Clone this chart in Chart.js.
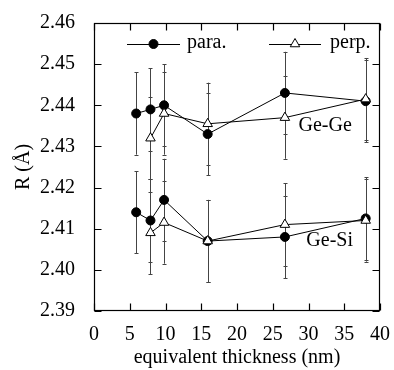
<!DOCTYPE html>
<html>
<head>
<meta charset="utf-8">
<script src="https://cdn.jsdelivr.net/npm/chart.js@4"></script>
<style>
  html, body { margin: 0; padding: 0; background: #fff; }
  #wrap { width: 394px; height: 370px; }
</style>
</head>
<body>
<div id="wrap"><canvas id="chart" width="394" height="370"></canvas></div>
<script>
// values
const thickness = [5.9, 7.9, 9.8, 15.9, 26.7, 38.0];

const geGePara = [2.438, 2.439, 2.440, 2.433, 2.443, 2.441];
const geGePerp = [null, 2.432, 2.438, 2.4355, 2.437, 2.4415];
const geSiPara = [2.414, 2.412, 2.417, 2.407, 2.408, 2.4125];
const geSiPerp = [null, 2.409, 2.4115, 2.407, 2.411, 2.412];

// error (± R) for each point
const geGeParaErr = [0.010, 0.010, 0.010, 0.010, 0.010, 0.010];
const geGePerpErr = [null, 0.010, 0.010, 0.010, 0.010, 0.010];
const geSiParaErr = [0.010, 0.010, 0.010, 0.010, 0.010, 0.010];
const geSiPerpErr = [null, 0.010, 0.010, 0.010, 0.010, 0.010];

const xTicks = [0, 5, 10, 15, 20, 25, 30, 35, 40];
const yTicks = [2.39, 2.40, 2.41, 2.42, 2.43, 2.44, 2.45, 2.46];

const seriesNames = ['para.', 'perp.'];
const groupLabels = [
    { text: 'Ge-Ge', x: 28.6, y: 2.4351 },
    { text: 'Ge-Si', x: 29.7, y: 2.4070 }
];

const FONT = '"Liberation Serif", "DejaVu Serif", serif';

function points(ys) {
    return thickness
        .map((x, i) => ({ x: x, y: ys[i] }))
        .filter(p => p.y !== null);
}

function errs(ys, es) {
    return thickness
        .map((x, i) => ({ x: x, y: ys[i], e: es[i] }))
        .filter(p => p.y !== null && p.e !== null);
}

const paraStyle = { pointStyle: 'circle', pointRadius: 4.5, pointBackgroundColor: '#000' };
const perpStyle = { pointStyle: 'triangle', pointRadius: 5.5, pointBackgroundColor: '#fff' };

function makeSet(label, ys, es, style) {
    return Object.assign({
        label: label,
        data: points(ys),
        errorBars: errs(ys, es),
        borderColor: '#000',
        borderWidth: 1,
        pointBorderColor: '#000',
        pointBorderWidth: 1,
        showLine: true,
        fill: false,
        tension: 0
    }, style);
}

// perp first so the triangles sit on top of the circles
const datasets = [
    makeSet(seriesNames[1], geGePerp, geGePerpErr, perpStyle),
    makeSet(seriesNames[1], geSiPerp, geSiPerpErr, perpStyle),
    makeSet(seriesNames[0], geGePara, geGeParaErr, paraStyle),
    makeSet(seriesNames[0], geSiPara, geSiParaErr, paraStyle)
];

const decorations = {
    id: 'decorations',
    beforeDatasetsDraw(chart) {
        const ctx = chart.ctx;
        const xs = chart.scales.x;
        const ys = chart.scales.y;
        ctx.save();
        ctx.strokeStyle = '#444';
        ctx.lineWidth = 1;
        chart.data.datasets.forEach(ds => {
            ds.errorBars.forEach(p => {
                const px = Math.round(xs.getPixelForValue(p.x)) + 0.5;
                const top = ys.getPixelForValue(p.y + p.e);
                const bot = ys.getPixelForValue(p.y - p.e);
                ctx.beginPath();
                ctx.moveTo(px, top);
                ctx.lineTo(px, bot);
                ctx.moveTo(px - 2, Math.round(top) + 0.5);
                ctx.lineTo(px + 2, Math.round(top) + 0.5);
                ctx.moveTo(px - 2, Math.round(bot) + 0.5);
                ctx.lineTo(px + 2, Math.round(bot) + 0.5);
                ctx.stroke();
            });
        });
        ctx.restore();
    },
    afterDraw(chart) {
        const ctx = chart.ctx;
        const a = chart.chartArea;
        const xs = chart.scales.x;
        const ys = chart.scales.y;
        const L = Math.round(a.left) + 0.5, R = Math.round(a.right) - 0.5;
        const T = Math.round(a.top) + 0.5, B = Math.round(a.bottom) - 0.5;
        const tick = 7;
        ctx.save();
        ctx.strokeStyle = '#000';
        ctx.lineWidth = 1.2;
        ctx.strokeRect(L, T, R - L, B - T);
        ctx.beginPath();
        xTicks.forEach(v => {
            const px = Math.round(xs.getPixelForValue(v)) + 0.5;
            ctx.moveTo(px, B); ctx.lineTo(px, B - tick);
            ctx.moveTo(px, T); ctx.lineTo(px, T + tick);
        });
        yTicks.forEach(v => {
            const py = Math.round(ys.getPixelForValue(v)) + 0.5;
            ctx.moveTo(L, py); ctx.lineTo(L + tick, py);
            ctx.moveTo(R, py); ctx.lineTo(R - tick, py);
        });
        ctx.stroke();

        // legend inside the frame
        const legendY = 44;
        const legendItems = [
            { name: seriesNames[0], x0: 127, x1: 180, style: paraStyle, tx: 187 },
            { name: seriesNames[1], x0: 269, x1: 321, style: perpStyle, tx: 330 }
        ];
        ctx.font = '20px ' + FONT;
        ctx.fillStyle = '#000';
        ctx.textBaseline = 'middle';
        ctx.textAlign = 'left';
        legendItems.forEach(it => {
            ctx.lineWidth = 1;
            ctx.strokeStyle = '#000';
            ctx.beginPath();
            ctx.moveTo(it.x0, legendY + 0.5);
            ctx.lineTo(it.x1, legendY + 0.5);
            ctx.stroke();
            ctx.fillStyle = it.style.pointBackgroundColor;
            Chart.helpers.drawPoint(ctx, {
                pointStyle: it.style.pointStyle,
                radius: it.style.pointRadius,
                rotation: 0,
                borderWidth: 1
            }, (it.x0 + it.x1) / 2, legendY);
            ctx.fillStyle = '#000';
            ctx.fillText(it.name, it.tx, legendY - 1);
        });

        groupLabels.forEach(g => {
            ctx.fillText(g.text, xs.getPixelForValue(g.x), ys.getPixelForValue(g.y));
        });
        ctx.restore();
    }
};

new Chart(document.getElementById('chart'), {
    type: 'scatter',
    data: { datasets: datasets },
    options: {
        responsive: false,
        animation: false,
        layout: { padding: { top: 19, right: 11, left: 0, bottom: 0 } },
        plugins: {
            legend: { display: false },
            tooltip: { enabled: false }
        },
        scales: {
            x: {
                type: 'linear',
                min: 0,
                max: 40,
                afterBuildTicks: scale => { scale.ticks = xTicks.map(v => ({ value: v })); },
                afterFit: scale => { scale.height = 59; },
                grid: { display: false },
                border: { display: false },
                ticks: {
                    color: '#000',
                    padding: 4,
                    maxRotation: 0,
                    font: { family: FONT, size: 20 }
                },
                title: {
                    display: true,
                    text: 'equivalent thickness (nm)',
                    color: '#000',
                    padding: { top: 0, bottom: 0 },
                    font: { family: FONT, size: 20 }
                }
            },
            y: {
                type: 'linear',
                min: 2.39,
                max: 2.46,
                afterBuildTicks: scale => { scale.ticks = yTicks.map(v => ({ value: v })); },
                afterFit: scale => { scale.width = 94; },
                grid: { display: false },
                border: { display: false },
                ticks: {
                    color: '#000',
                    padding: 11,
                    font: { family: FONT, size: 20 },
                    callback: v => v.toFixed(2)
                },
                title: {
                    display: true,
                    text: 'R (Å)',
                    color: '#000',
                    padding: { top: 12, bottom: 0 },
                    font: { family: FONT, size: 20 }
                }
            }
        }
    },
    plugins: [decorations]
});
</script>
</body>
</html>
